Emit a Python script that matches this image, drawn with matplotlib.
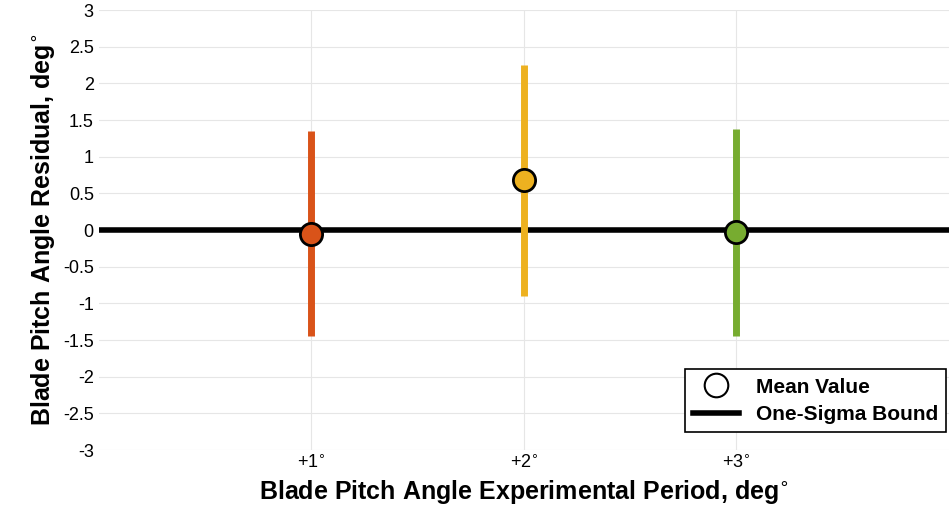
import matplotlib
matplotlib.use('Agg')
import matplotlib.pyplot as plt
from matplotlib.lines import Line2D

plt.rcParams['font.family'] = ['Liberation Sans', 'DejaVu Sans']

periods = [1, 2, 3]
tick_labels = ['+1$^{\\circ}$', '+2$^{\\circ}$', '+3$^{\\circ}$']
means = [-0.05, 0.68, -0.03]
lower = [-1.45, -0.9, -1.45]
upper = [1.35, 2.25, 1.38]
colors = ['#D95319', '#EDB120', '#77AC30']

fig = plt.figure(figsize=(9.49, 5.27), dpi=100)
ax = fig.add_axes([0.104, 0.146, 0.896, 0.835])
ax.axhline(0, color='black', lw=4, zorder=2)
for x, m, lo, hi, c in zip(periods, means, lower, upper, colors):
    ax.plot([x, x], [lo, hi], color=c, lw=5, solid_capstyle='butt', zorder=3)
    ax.plot(x, m, 'o', ms=16, mfc=c, mec='black', mew=2, zorder=4)

ax.set_xlim(0, 4)
ax.set_ylim(-3, 3)
ax.set_xticks(periods)
ax.set_xticklabels(tick_labels)
yt = [-3 + 0.5 * i for i in range(13)]
ax.set_yticks(yt)
ax.set_yticklabels([f'{v:g}' for v in yt])
ax.grid(True, color='#e6e6e6', lw=0.8)
ax.set_axisbelow(True)
ax.tick_params(labelsize=13, direction='in', length=0)
for s in ax.spines.values():
    s.set_visible(False)
ax.set_xlabel('Blade Pitch Angle Experimental Period, deg$^{\\circ}$', fontsize=18, fontweight='bold')
ax.set_ylabel('Blade Pitch Angle Residual, deg$^{\\circ}$', fontsize=18, fontweight='bold')

handles = [Line2D([], [], marker='o', ls='none', ms=17, mfc='white', mec='black', mew=1.5),
           Line2D([], [], color='black', lw=4)]
leg = ax.legend(handles, ['Mean Value', 'One-Sigma Bound'], loc='lower right',
                bbox_to_anchor=(0.997, 0.04),
                prop={'weight': 'bold', 'size': 15}, fancybox=False, framealpha=1,
                edgecolor='black', borderaxespad=0, handlelength=2.2, labelspacing=0.4)
leg.get_frame().set_linewidth(1.2)
fig.savefig('out.png', dpi=100)
